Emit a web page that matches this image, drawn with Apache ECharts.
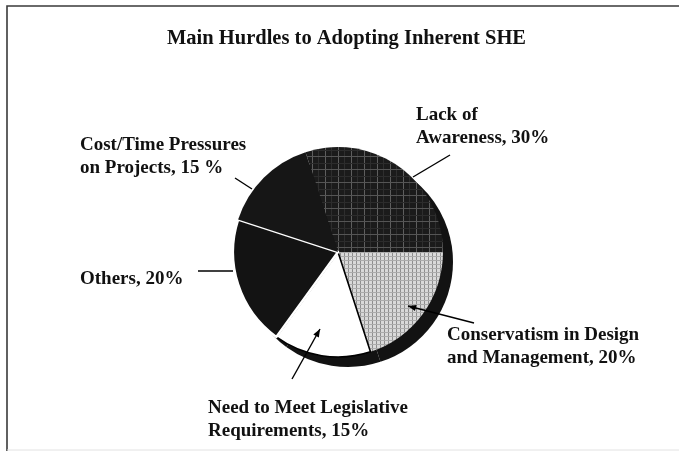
<!DOCTYPE html>
<html><head><meta charset="utf-8">
<script src="https://cdn.jsdelivr.net/npm/echarts@6/dist/echarts.min.js"></script>
<style>html,body{margin:0;padding:0;background:#fff}#c{width:679px;height:451px}</style>
</head><body><div id="c"></div>
<script>
// ---- data ----
const categories = ['Lack of Awareness', 'Conservatism in Design and Management', 'Need to Meet Legislative Requirements', 'Others', 'Cost/Time Pressures on Projects'];
const values = [30, 20, 15, 20, 15];
const labelNames = ['Lack of\nAwareness', 'Conservatism in Design\nand Management', 'Need to Meet Legislative\nRequirements', 'Others', 'Cost/Time Pressures\non Projects'];
const pctSuffix = ['%', '%', '%', '%', ' %'];
const titleText = 'Main Hurdles to Adopting Inherent SHE';

// ---- layout (annotation placement) ----
const PIE_C = [338, 252], PIE_R = 105, RIM_OFF = 10;
const labelPos = [
  { x: 416, y: 104, line: [[450, 155], [413, 177]], arrow: false },
  { x: 447, y: 324, line: [[474, 323], [408, 306]], arrow: true },
  { x: 208, y: 397, line: [[292, 379], [320, 329]], arrow: true },
  { x: 80,  y: 268, line: [[198, 271], [233, 271]], arrow: false },
  { x: 80,  y: 134, line: [[235, 178], [252, 189]], arrow: false }
];

function pattern(w, h, bg, lines) {
  const c = document.createElement('canvas'); c.width = w; c.height = h;
  const g = c.getContext('2d'); g.fillStyle = bg; g.fillRect(0, 0, w, h);
  lines.forEach(([t, p, col]) => { g.fillStyle = col; if (t === 'v') g.fillRect(p, 0, 1, h); else g.fillRect(0, p, w, 1); });
  return c;
}
const lackPat = pattern(13, 13, '#1b1b1b', [['v', 0, '#5e5e5e'], ['v', 6, '#2e2e2e'], ['h', 0, '#555555'], ['h', 7, '#2c2c2c']]);
const consPat = pattern(4, 4, '#d9d9d9', [['v', 0, '#8e8e8e'], ['h', 0, '#ababab']]);

const sliceStyles = [
  { color: { image: lackPat, repeat: 'repeat' }, borderWidth: 0 },
  { color: { image: consPat, repeat: 'repeat' }, borderWidth: 0 },
  { color: '#ffffff', borderColor: '#000', borderWidth: 1.6 },
  { color: '#131313', borderColor: '#fff', borderWidth: 2.4 },
  { color: '#161616', borderWidth: 0 }
];

function arrowHead(p0, p1) {
  const dx = p1[0] - p0[0], dy = p1[1] - p0[1], L = Math.hypot(dx, dy);
  const ux = dx / L, uy = dy / L, len = 8, hw = 3.2;
  const bx = p1[0] - ux * len, by = p1[1] - uy * len;
  return [[p1[0], p1[1]], [bx - uy * hw, by + ux * hw], [bx + uy * hw, by - ux * hw]];
}

const graphics = [
  { type: 'polyline', shape: { points: [[7, 451], [7, 6], [679, 6]] }, style: { stroke: '#3a3a3a', lineWidth: 1.6, fill: null }, z: 10 },
  { type: 'line', shape: { x1: 7, y1: 450, x2: 679, y2: 450 }, style: { stroke: '#e2e2e2', lineWidth: 1 }, z: 10 }
];
labelPos.forEach(p => {
  graphics.push({ type: 'line', shape: { x1: p.line[0][0], y1: p.line[0][1], x2: p.line[1][0], y2: p.line[1][1] },
    style: { stroke: '#000', lineWidth: 1.4 }, z: 20 });
  if (p.arrow) graphics.push({ type: 'polygon', shape: { points: arrowHead(p.line[0], p.line[1]) }, style: { fill: '#000' }, z: 20 });
});

const chart = echarts.init(document.getElementById('c'), null, { renderer: 'canvas' });
chart.setOption({
  backgroundColor: '#fff',
  animation: false,
  title: {
    text: titleText, left: 162, top: 23,
    textStyle: { fontFamily: 'Liberation Serif', fontWeight: 'bold', fontSize: 20.5, color: '#111' }
  },
  graphic: graphics,
  series: [
    {
      type: 'pie', silent: true, z: 1,
      center: [PIE_C[0] + RIM_OFF, PIE_C[1] + RIM_OFF], radius: PIE_R,
      startAngle: 108, clockwise: true,
      label: { show: false }, labelLine: { show: false },
      itemStyle: { color: '#121212', borderWidth: 0 },
      data: categories.map((n, i) => ({ name: n, value: values[i] }))
    },
    {
      type: 'pie', silent: true, z: 2,
      center: PIE_C, radius: PIE_R,
      startAngle: 108, clockwise: true, avoidLabelOverlap: false,
      label: {
        show: true, position: 'outside', overflow: 'none',
        fontFamily: 'Liberation Serif', fontWeight: 'bold', fontSize: 19, lineHeight: 23, color: '#111',
        formatter: p => labelNames[p.dataIndex] + ', ' + p.value + pctSuffix[p.dataIndex]
      },
      labelLine: { show: false },
      labelLayout: params => {
        const p = labelPos[params.dataIndex];
        return { x: p.x, y: p.y, align: 'left', verticalAlign: 'top' };
      },
      data: categories.map((n, i) => ({ name: n, value: values[i], itemStyle: sliceStyles[i] }))
    }
  ]
});
</script></body></html>
